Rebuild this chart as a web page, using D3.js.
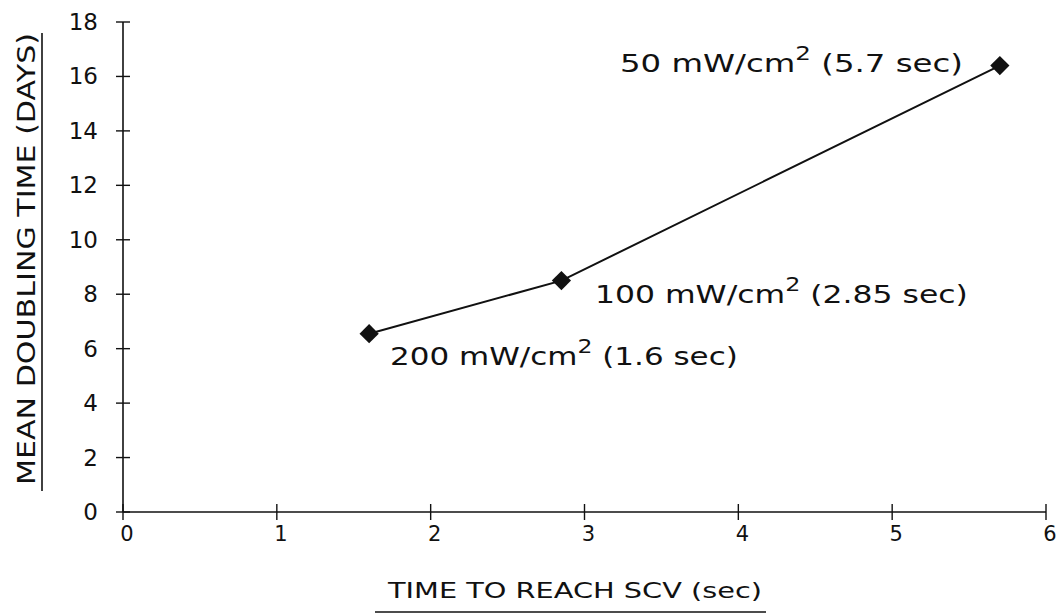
<!DOCTYPE html>
<html>
<head>
<meta charset="utf-8">
<script src="https://cdn.jsdelivr.net/npm/d3@7"></script>
<style>
  body { margin: 0; background: #fff; }
  text { font-family: "DejaVu Sans", sans-serif; fill: #111; }
</style>
</head>
<body>
<svg id="chart"></svg>
<script>
// data
const timeSec = [1.6, 2.85, 5.7];
const doublingDays = [6.55, 8.5, 16.4];
const powerLabels = ["200", "100", "50"];
const secLabels = ["(1.6 sec)", "(2.85 sec)", "(5.7 sec)"];
const xTicks = [0, 1, 2, 3, 4, 5, 6];
const yTicks = [0, 2, 4, 6, 8, 10, 12, 14, 16, 18];

const width = 1056, height = 616;
const svg = d3.select("#chart").attr("width", width).attr("height", height);

const x = d3.scaleLinear().domain([0, 6]).range([123, 1046]);
const y = d3.scaleLinear().domain([0, 18]).range([512, 22]);

// stretch a text element horizontally to a target width (original lettering is very wide)
function fitWidth(sel, x0, w) {
    const bw = sel.node().getBBox().width;
    const s = w / bw;
    sel.attr("transform", `translate(${x0},0) scale(${s},1) translate(${-x0},0)`);
}

// axes, ticks cross the axis line
svg.append("line")
    .attr("x1", x(0)).attr("x2", x(6))
    .attr("y1", y(0)).attr("y2", y(0))
    .attr("stroke", "#111").attr("stroke-width", 1.6);
svg.append("line")
    .attr("x1", x(0)).attr("x2", x(0))
    .attr("y1", y(0)).attr("y2", y(18))
    .attr("stroke", "#111").attr("stroke-width", 1.6);

svg.selectAll(".xtick")
    .data(xTicks)
    .enter()
    .append("line")
    .attr("x1", d => x(d)).attr("x2", d => x(d))
    .attr("y1", y(0) - 8).attr("y2", y(0) + 8)
    .attr("stroke", "#111").attr("stroke-width", 1.4);

svg.selectAll(".ytick")
    .data(yTicks)
    .enter()
    .append("line")
    .attr("x1", x(0) - 7).attr("x2", x(0) + 7)
    .attr("y1", d => y(d)).attr("y2", d => y(d))
    .attr("stroke", "#111").attr("stroke-width", 1.4);

svg.selectAll(".xlabel")
    .data(xTicks)
    .enter()
    .append("text")
    .attr("x", d => x(d) + 4)
    .attr("y", y(0) + 29)
    .attr("text-anchor", "middle")
    .style("font-size", "21px")
    .text(d => d);

svg.selectAll(".ylabel")
    .data(yTicks)
    .enter()
    .append("text")
    .attr("x", 98)
    .attr("y", d => y(d) + 8)
    .attr("text-anchor", "end")
    .style("font-size", "23px")
    .text(d => d);

// axis titles with underline
svg.append("text")
    .attr("x", 575)
    .attr("y", 598)
    .attr("text-anchor", "middle")
    .style("font-size", "22px")
    .attr("textLength", 374)
    .attr("lengthAdjust", "spacingAndGlyphs")
    .text("TIME TO REACH SCV (sec)");
svg.append("line")
    .attr("x1", 375).attr("x2", 766)
    .attr("y1", 612).attr("y2", 612)
    .attr("stroke", "#111").attr("stroke-width", 1.6);

svg.append("text")
    .attr("transform", "translate(35,259) rotate(-90)")
    .attr("text-anchor", "middle")
    .style("font-size", "25px")
    .attr("textLength", 452)
    .attr("lengthAdjust", "spacingAndGlyphs")
    .text("MEAN DOUBLING TIME (DAYS)");
svg.append("line")
    .attr("x1", 42).attr("x2", 42)
    .attr("y1", 33).attr("y2", 491)
    .attr("stroke", "#111").attr("stroke-width", 1.6);

// data line and diamonds
const pts = timeSec.map((t, i) => ({ t: t, d: doublingDays[i] }));
svg.append("path")
    .datum(pts)
    .attr("fill", "none")
    .attr("stroke", "#111")
    .attr("stroke-width", 2)
    .attr("d", d3.line().x(d => x(d.t)).y(d => y(d.d)));

svg.selectAll(".pt")
    .data(pts)
    .enter()
    .append("path")
    .attr("d", d3.symbol().type(d3.symbolSquare).size(185))
    .attr("transform", d => `translate(${x(d.t)},${y(d.d)}) rotate(45)`)
    .attr("fill", "#111");

// point annotations
const labelPos = [
    { x: 390, y: 365, len: 348 },
    { x: 595, y: 303, len: 373 },
    { x: 620, y: 72, len: 343 }
];
labelPos.forEach((p, i) => {
    const t = svg.append("text")
        .attr("x", p.x)
        .attr("y", p.y)
        .style("font-size", "25px");
    t.append("tspan").text(powerLabels[i] + " mW/cm");
    t.append("tspan").attr("dy", -12).style("font-size", "19px").text("2");
    t.append("tspan").attr("dy", 12).text(" " + secLabels[i]);
    fitWidth(t, p.x, p.len);
});
</script>
</body>
</html>
